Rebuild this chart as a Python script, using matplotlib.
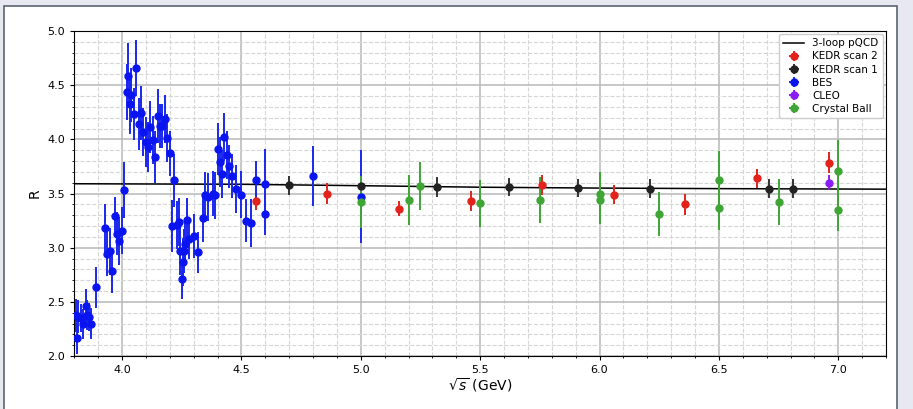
import numpy as np
import matplotlib
matplotlib.use('Agg')
import matplotlib.pyplot as plt
from matplotlib.ticker import MultipleLocator
from matplotlib.patches import Rectangle

# R ratio measurements vs sqrt(s)

pqcd_e = [3.8, 4.5, 5.0, 5.5, 6.0, 6.5, 7.2]
pqcd_r = [3.590, 3.585, 3.572, 3.558, 3.550, 3.545, 3.540]

kedr2_e = [4.56, 4.86, 5.16, 5.46, 5.76, 6.06, 6.36, 6.66, 6.96]
kedr2_r = [3.43, 3.50, 3.36, 3.43, 3.58, 3.49, 3.40, 3.64, 3.785]
kedr2_err = [0.085, 0.10, 0.07, 0.09, 0.09, 0.09, 0.10, 0.085, 0.10]

kedr1_e = [4.70, 5.00, 5.32, 5.62, 5.91, 6.21, 6.71, 6.81]
kedr1_r = [3.576, 3.573, 3.56, 3.56, 3.55, 3.545, 3.545, 3.545]
kedr1_err = [0.09, 0.09, 0.09, 0.085, 0.085, 0.09, 0.09, 0.09]

bes_e = [3.810, 3.807, 3.817, 3.827, 3.838, 3.848, 3.852, 3.862, 3.871, 3.890,
         3.930, 3.939, 3.950, 3.959, 3.969, 3.979, 3.989, 4.000, 4.010, 4.020,
         4.026, 4.032, 4.039, 4.049, 4.060, 4.070, 4.080, 4.089, 4.099, 4.109,
         4.119, 4.130, 4.140, 4.150, 4.159, 4.169, 4.179, 4.190, 4.200, 4.219,
         4.210, 4.229, 4.239, 4.243, 4.250, 4.255, 4.260, 4.264, 4.270, 4.280,
         4.301, 4.320, 4.340, 4.349, 4.359, 4.379, 4.390, 4.400, 4.410, 4.419,
         4.429, 4.439, 4.449, 4.460, 4.479, 4.500, 4.520, 4.541, 4.561, 4.60,
         4.60, 4.80, 5.00]
bes_r = [2.163, 2.376, 2.363, 2.350, 2.295, 2.465, 2.380, 2.363, 2.300, 2.634,
         3.180, 2.940, 2.965, 2.785, 3.290, 3.130, 3.060, 3.157, 3.530, 4.435,
         4.585, 4.327, 4.407, 4.234, 4.656, 4.145, 4.244, 4.065, 3.973, 3.927,
         4.114, 3.994, 3.837, 4.213, 4.124, 4.124, 4.185, 4.013, 3.870, 3.620,
         3.200, 3.207, 3.237, 2.970, 2.708, 2.870, 2.970, 3.034, 3.260, 3.077,
         3.108, 2.957, 3.270, 3.490, 3.468, 3.500, 3.483, 3.910, 3.790, 3.683,
         4.022, 3.853, 3.750, 3.660, 3.540, 3.490, 3.250, 3.230, 3.620, 3.585,
         3.308, 3.662, 3.470]
bes_err = [0.14, 0.15, 0.15, 0.13, 0.14, 0.15, 0.14, 0.13, 0.14, 0.19,
           0.22, 0.20, 0.22, 0.20, 0.18, 0.20, 0.22, 0.22, 0.26, 0.26,
           0.30, 0.28, 0.25, 0.24, 0.26, 0.24, 0.25, 0.22, 0.23, 0.23,
           0.24, 0.22, 0.24, 0.25, 0.20, 0.20, 0.22, 0.22, 0.21, 0.24,
           0.24, 0.22, 0.22, 0.22, 0.18, 0.22, 0.20, 0.20, 0.20, 0.18,
           0.20, 0.19, 0.22, 0.21, 0.22, 0.21, 0.22, 0.24, 0.23, 0.22,
           0.22, 0.22, 0.20, 0.20, 0.22, 0.22, 0.20, 0.22, 0.18, 0.33,
           0.19, 0.28, 0.43]

cleo_e = [6.96]
cleo_r = [3.60]
cleo_err = [0.07]

cb_e = [5.00, 5.20, 5.25, 5.50, 5.75, 6.00, 6.00, 6.25, 6.50, 6.50, 6.75, 7.00, 7.00]
cb_r = [3.42, 3.44, 3.57, 3.41, 3.44, 3.50, 3.44, 3.31, 3.62, 3.37, 3.42, 3.71, 3.35]
cb_err = [0.24, 0.235, 0.22, 0.215, 0.215, 0.20, 0.22, 0.20, 0.27, 0.21, 0.21, 0.28, 0.20]


fig = plt.figure(figsize=(9.13, 4.09), dpi=100)
fig.patch.set_facecolor('#e8e8f0')
panel = Rectangle((4/913, -0.05), 893/913, 1 - 6/409 + 0.05, transform=fig.transFigure,
                  facecolor='white', edgecolor='#5a6470', linewidth=1.2, zorder=-10)
fig.patches.append(panel)

ax = fig.add_axes([74.3/913, 1 - 356/409, (886 - 74.3)/913, (356 - 31)/409])

ax.plot(pqcd_e, pqcd_r, color='black', lw=1.1, label='3-loop pQCD', zorder=3)

style = dict(fmt='o', markersize=5, elinewidth=1.4, capsize=0, zorder=4, xerr=0.0005)
ax.errorbar(kedr2_e, kedr2_r, yerr=kedr2_err, color='#e3221c', ecolor='#e3221c', label='KEDR scan 2', **style)
ax.errorbar(kedr1_e, kedr1_r, yerr=kedr1_err, color='#222222', ecolor='#333333', label='KEDR scan 1', **style)
ax.errorbar(bes_e, bes_r, yerr=bes_err, color='#0a14f0', ecolor='#1a28ee', label='BES', **style)
ax.errorbar(cleo_e, cleo_r, yerr=cleo_err, color='#8a1cf5', ecolor='#8a1cf5', label='CLEO', **style)
ax.errorbar(cb_e, cb_r, yerr=cb_err, color='#3fa535', ecolor='#3fa535', label='Crystal Ball', **style)

ax.set_xlim(3.8, 7.2)
ax.set_ylim(2.0, 5.0)
ax.xaxis.set_major_locator(MultipleLocator(0.5))
ax.xaxis.set_minor_locator(MultipleLocator(0.1))
ax.yaxis.set_major_locator(MultipleLocator(0.5))
ax.yaxis.set_minor_locator(MultipleLocator(0.1))
ax.grid(which='major', color='#b8b8b8', lw=1.1)
ax.grid(which='minor', color='#d6d6d6', lw=0.8, ls='--')
ax.set_axisbelow(True)
ax.tick_params(labelsize=8, length=3)
ax.tick_params(which='minor', length=1.5)

ax.set_xlabel(r'$\sqrt{s}$ (GeV)', fontsize=10, labelpad=1)
ax.set_ylabel('R', fontsize=10)
ax.legend(loc='upper right', fontsize=7.5, framealpha=1, handlelength=2.0,
          labelspacing=0.3, borderaxespad=0.3)

plt.savefig('out.png', dpi=100, facecolor=fig.get_facecolor())
